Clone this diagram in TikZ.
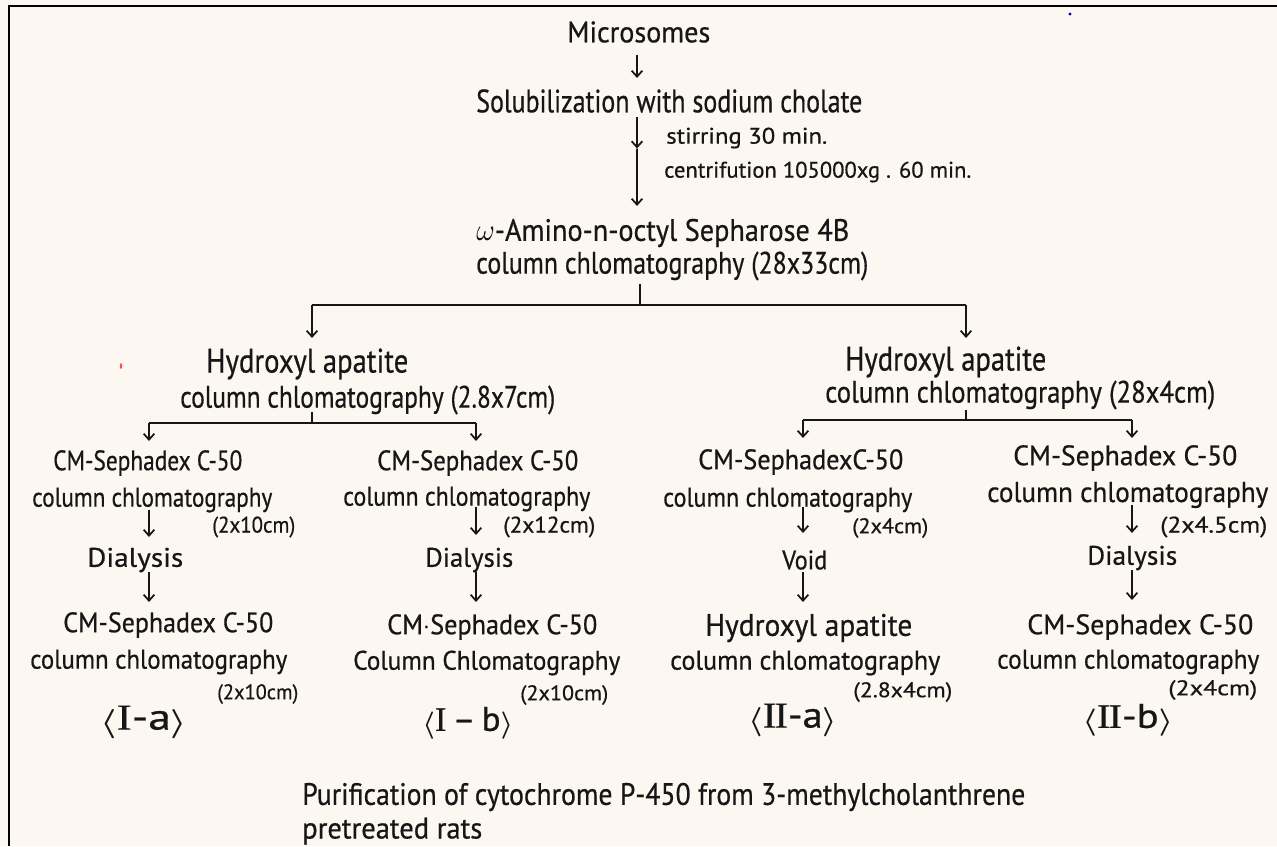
\documentclass[tikz,border=0pt]{standalone}
\usepackage{fontspec}
\setmainfont{PT Sans}[FakeBold=0.6]
\newfontfamily\serifI{Liberation Serif}[FakeBold=0.4]
\usetikzlibrary{arrows.meta,calc}
\newlength\pxu \setlength\pxu{0.75pt}
% width and ascender height in px
\newcommand\fitwh[3]{\resizebox{#1\pxu}{#2\pxu}{#3}}
\newcommand\rI{{\serifI I}}
\newcommand\lbr{\raisebox{-0.04em}{\resizebox*{!}{0.8em}{\boldmath$\langle$}}}
\newcommand\rbr{\raisebox{-0.04em}{\resizebox*{!}{0.8em}{\boldmath$\rangle$}}}
\definecolor{paper}{HTML}{FCF7F0}
\definecolor{ink}{HTML}{161616}
\tikzset{
  t/.style={inner sep=0pt, anchor=west, text=ink},
  ln/.style={draw=ink, line width=1.3pt},
  arr/.style={ln, -{Straight Barb[length=4.5pt,width=8pt,line width=1.3pt]}}
}
\begin{document}
\begin{tikzpicture}[x=0.75pt,y=-0.75pt]
\fill[paper] (0,0) rectangle (1277,846);
\useasboundingbox (0,0) rectangle (1277,846);

% frame
\draw[line width=2.2pt, black] (9,846) -- (9,6) -- (1277,6);

% specks
\fill[blue!60!black] (1070,14) circle (1.6);
\fill[red!70] (121,366) ellipse (1.2 and 3);

% axes
\coordinate (ax) at (637,0);
\coordinate (x0) at (640,0);
\coordinate (xL) at (312,0);
\coordinate (xR) at (966,0);
\coordinate (xA) at (149,0);
\coordinate (xB) at (476,0);
\coordinate (xC) at (803,0);
\coordinate (xD) at (1132,0);

% ---------- nodes ----------
\node[t] (mic) at (567,32) {\fitwh{143}{21}{Microsomes}};
\node[t] (sol) at (476,101) {\fitwh{386}{23}{Solubilization with sodium cholate}};
\node[t] (stir) at (666,138) {\fitwh{161}{16}{stirring 30 min.}};
\node[t] (cen) at (664,172) {\fitwh{307}{16}{centrifution 105000xg . 60 min.}};
\node[t] (ami) at (476,233) {\fitwh{373}{22}{$\omega$-Amino-n-octyl Sepharose 4B}};
\node[t] (col0) at (476,266) {\fitwh{392}{22}{column chlomatography (28x33cm)}};

\node[t] (haL) at (206,364) {\fitwh{202}{24}{Hydroxyl apatite}};
\node[t] (colL) at (180,400) {\fitwh{375}{22}{column chlomatography (2.8x7cm)}};
\node[t] (haR) at (845,362) {\fitwh{201}{24}{Hydroxyl apatite}};
\node[t] (colR) at (825,395) {\fitwh{390}{22}{column chlomatography (28x4cm)}};

\node[t] (cmA1) at (53,463) {\fitwh{189}{20}{CM-Sephadex C-50}};
\node[t] (ccA1) at (32,500) {\fitwh{240}{19}{column chlomatography}};
\node[t] (dimA1) at (212,527) {\fitwh{83}{16}{(2x10cm)}};
\node[t] (diaA) at (87,560) {\fitwh{96}{19}{Dialysis}};
\node[t] (cmA2) at (63,625) {\fitwh{210}{20}{CM-Sephadex C-50}};
\node[t] (ccA2) at (30,662) {\fitwh{257}{19}{column chlomatography}};
\node[t] (dimA2) at (217,694) {\fitwh{81}{15}{(2x10cm)}};
\node[t] (labA) at (100,722) {\fitwh{87}{24}{\lbr\rI-a\rbr}};

\node[t] (cmB1) at (377,463) {\fitwh{201}{20}{CM-Sephadex C-50}};
\node[t] (ccB1) at (343,499) {\fitwh{247}{19}{column chlomatography}};
\node[t] (dimB1) at (503,527) {\fitwh{92}{16}{(2x12cm)}};
\node[t] (diaB) at (425,560) {\fitwh{88}{19}{Dialysis}};
\node[t] (cmB2) at (387,627) {\fitwh{210}{20}{CM$\cdot$Sephadex C-50}};
\node[t] (ccB2) at (353,663) {\fitwh{267}{19}{Column Chlomatography}};
\node[t] (dimB2) at (520,695) {\fitwh{88}{15}{(2x10cm)}};
\node[t] (labB) at (422,723) {\fitwh{91}{24}{\lbr\rI\,--\,b\rbr}};

\node[t] (cmC1) at (698,462) {\fitwh{205}{20}{CM-SephadexC-50}};
\node[t] (ccC1) at (663,500) {\fitwh{249}{19}{column chlomatography}};
\node[t] (dimC1) at (852,528) {\fitwh{76}{15}{(2x4cm)}};
\node[t] (voidC) at (782,560) {\fitwh{45}{19}{Void}};
\node[t] (haC) at (705,628) {\fitwh{207}{22}{Hydroxyl apatite}};
\node[t] (ccC2) at (670,663) {\fitwh{270}{19}{column chlomatography}};
\node[t] (dimC2) at (853,692) {\fitwh{99}{15}{(2.8x4cm)}};
\node[t] (labC) at (748,720) {\fitwh{89}{24}{\lbr\rI\kern-0.5pt\rI-a\rbr}};

\node[t] (cmD1) at (1013,458) {\fitwh{224}{20}{CM-Sephadex C-50}};
\node[t] (ccD1) at (987,495) {\fitwh{281}{20}{column chlomatography}};
\node[t] (dimD1) at (1160,527) {\fitwh{107}{16}{(2x4.5cm)}};
\node[t] (diaD) at (1087,558) {\fitwh{90}{19}{Dialysis}};
\node[t] (cmD2) at (1027,627) {\fitwh{226}{20}{CM-Sephadex C-50}};
\node[t] (ccD2) at (997,662) {\fitwh{262}{19}{column chlomatography}};
\node[t] (dimD2) at (1168,690) {\fitwh{89}{15}{(2x4cm)}};
\node[t] (labD) at (1082,720) {\fitwh{91}{24}{\lbr\rI\kern-0.5pt\rI-b\rbr}};

\node[t] (cap1) at (302,797) {\fitwh{723}{22}{Purification of cytochrome P-450 from 3-methylcholanthrene}};
\node[t] (cap2) at (302,831) {\fitwh{180}{21}{pretreated rats}};

% ---------- connectors ----------
\draw[arr] ($(ax |- mic.west)+(0,23)$) -- ($(ax |- sol.west)+(0,-23)$);
\coordinate (mid) at ($(ax |- sol.west)!0.36!(ax |- ami.west)$);
\draw[arr] ($(ax |- sol.west)+(0,16)$) -- (mid);
\draw[arr] (mid) -- ($(ax |- ami.west)+(0,-27)$);

\coordinate (br0) at ($(x0 |- col0.west)+(0,39)$);
\draw[ln] ($(x0 |- col0.west)+(0,18)$) -- (br0);
\draw[ln] (br0 -| xL) -- (br0 -| xR);
\draw[arr] (br0 -| xL) -- ($(xL |- haL.west)+(0,-26)$);
\draw[arr] (br0 -| xR) -- ($(xR |- haR.west)+(0,-24)$);

\coordinate (brL) at ($(xL |- colL.west)+(0,23)$);
\draw[ln] ($(xL |- colL.west)+(0,12)$) -- (brL);
\draw[ln] (brL -| xA) -- (brL -| xB);
\draw[arr] (brL -| xA) -- ($(xA |- cmA1.west)+(0,-22)$);
\draw[arr] (brL -| xB) -- ($(xB |- cmB1.west)+(0,-22)$);

\coordinate (brR) at ($(xR |- colR.west)+(0,25)$);
\draw[ln] ($(xR |- colR.west)+(0,15)$) -- (brR);
\draw[ln] (brR -| xC) -- (brR -| xD);
\draw[arr] (brR -| xC) -- ($(xC |- cmC1.west)+(0,-24)$);
\draw[arr] (brR -| xD) -- ($(xD |- cmD1.west)+(0,-20)$);

\draw[arr] ($(xA |- ccA1.west)+(0,10)$) -- ($(xA |- diaA.west)+(0,-23)$);
\draw[arr] ($(xA |- diaA.west)+(0,12)$) -- ($(xA |- cmA2.west)+(0,-23)$);
\draw[arr] ($(xB |- ccB1.west)+(0,8)$) -- ($(xB |- diaB.west)+(0,-25)$);
\draw[arr] ($(xB |- diaB.west)+(0,12)$) -- ($(xB |- cmB2.west)+(0,-25)$);
\draw[arr] ($(xC |- ccC1.west)+(0,7)$) -- ($(xC |- voidC.west)+(0,-27)$);
\draw[arr] ($(xC |- voidC.west)+(0,12)$) -- ($(xC |- haC.west)+(0,-26)$);
\draw[arr] ($(xD |- ccD1.west)+(0,10)$) -- ($(xD |- diaD.west)+(0,-25)$);
\draw[arr] ($(xD |- diaD.west)+(0,12)$) -- ($(xD |- cmD2.west)+(0,-27)$);
\end{tikzpicture}
\end{document}
